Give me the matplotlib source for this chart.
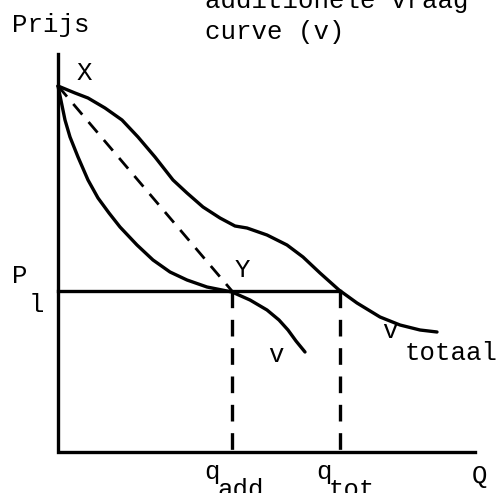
import matplotlib
matplotlib.use("Agg")
import matplotlib.pyplot as plt

# ---- data (Q, P) in arbitrary units ----
total_q = [0.0, 1.7, 3.0, 4.7, 6.4, 8.0, 9.7, 11.5, 12.9, 14.5, 16.2, 17.7, 18.9, 20.9, 22.9, 24.5, 26.2, 28.1, 29.9, 32.2, 34.2, 36.2, 37.9]
total_p = [36.6, 35.9, 35.4, 34.4, 33.2, 31.5, 29.5, 27.2, 25.9, 24.5, 23.4, 22.6, 22.4, 21.7, 20.7, 19.5, 17.9, 16.2, 14.9, 13.5, 12.7, 12.2, 12.0]

add_q = [0.0, 0.7, 1.2, 2.0, 3.0, 4.0, 5.1, 6.2, 7.9, 9.5, 11.2, 12.9, 14.9, 17.4, 19.2, 20.9, 22.1, 23.0, 23.8, 24.7]
add_p = [36.6, 33.2, 31.5, 29.5, 27.2, 25.4, 23.9, 22.5, 20.7, 19.2, 18.0, 17.2, 16.5, 16.0, 15.2, 14.2, 13.2, 12.2, 11.1, 10.0]

x_point = (0.0, 36.6)
p1 = 16.1
q_add = 17.4
q_tot = 28.2
q_max = 41.7
p_max = 39.8

FONT = "Liberation Mono"
FS = 18.5

fig = plt.figure(figsize=(4.97, 4.93), dpi=100)
ax = fig.add_axes([0, 0, 1, 1])
ax.set_xlim(-5.8, 43.9)
ax.set_ylim(-4.1, 45.2)
ax.axis("off")

lw = 2.4
# axes
ax.plot([0, 0, q_max], [p_max, 0, 0], color="black", lw=lw, solid_joinstyle="miter")
# price line P1
ax.plot([0, q_tot], [p1, p1], color="black", lw=lw)
# curves
ax.plot(total_q, total_p, color="black", lw=lw, solid_joinstyle="round", solid_capstyle="round")
ax.plot(add_q, add_p, color="black", lw=lw, solid_joinstyle="round", solid_capstyle="round")
# dashed X-Y line
ax.plot([x_point[0], q_add], [x_point[1], p1], color="black", lw=2.0, dashes=(5, 3.5))
# dashed verticals
ax.plot([q_add, q_add], [p1, 0], color="black", lw=2.4, dashes=(5, 3.5))
ax.plot([q_tot, q_tot], [p1, 0], color="black", lw=2.4, dashes=(5, 3.5))

def t(x, y, s, ha="left"):
    ax.text(x, y, s, fontsize=FS, family=FONT, ha=ha, va="baseline", color="black")

t(14.7, 44.4, "additionele vraag")
t(14.7, 41.3, "curve (v)")
t(-4.6, 42.0, "Prijs")
t(1.9, 37.2, "X")
t(-4.6, 16.9, "P")
t(-2.9, 14.0, "l")
t(17.7, 17.5, "Y")
t(21.8, 9.0, "v", ha="center")
t(33.2, 11.4, "v", ha="center")
t(34.7, 9.2, "totaal")
t(14.6, -2.7, "q")
t(15.9, -4.5, "add.")
t(25.8, -2.7, "q")
t(27.1, -4.5, "tot.")
t(41.4, -3.1, "Q")

fig.savefig("out.png", dpi=100)
